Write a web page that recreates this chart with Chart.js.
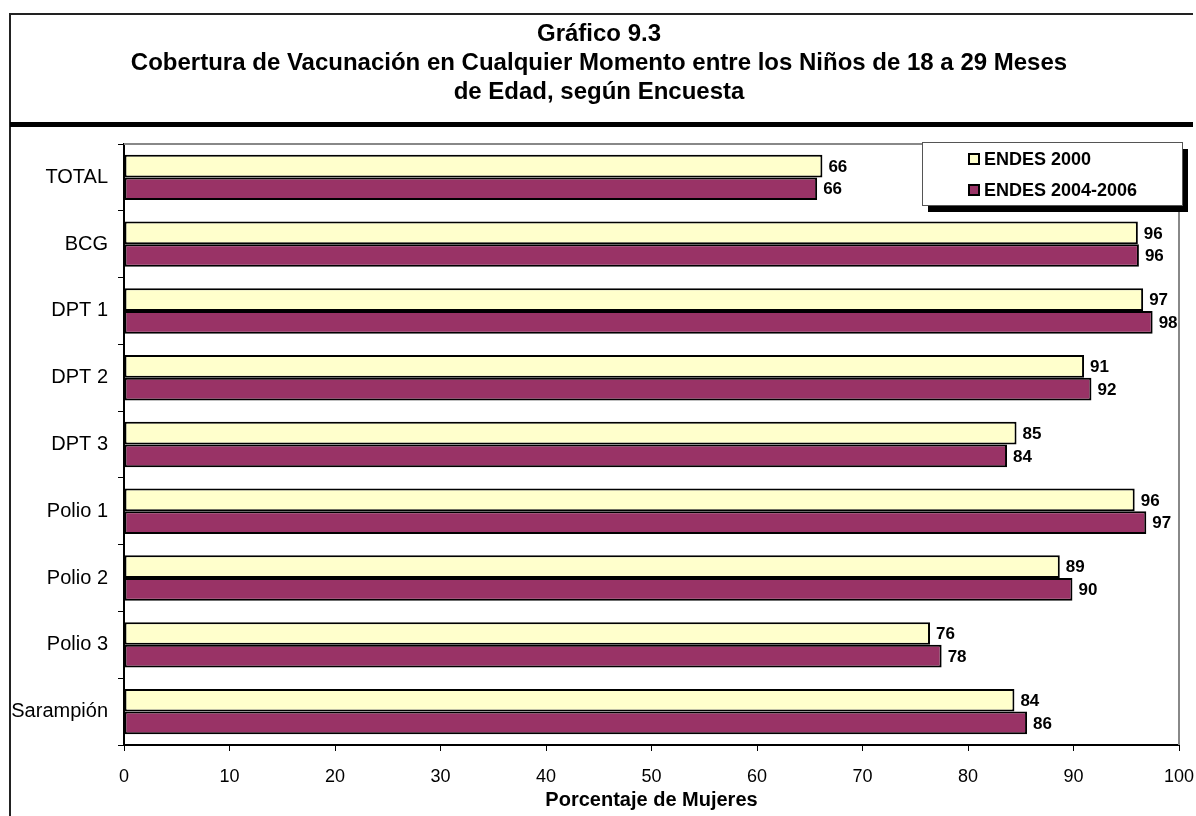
<!DOCTYPE html>
<html>
<head>
<meta charset="utf-8">
<script src="https://cdn.jsdelivr.net/npm/chart.js@4/dist/chart.umd.min.js"></script>
<style>
  html, body { margin: 0; padding: 0; background: #fff; }
  #wrap { width: 1196px; height: 816px; position: relative; }
</style>
</head>
<body>
<div id="wrap"><canvas id="vacChart" width="1196" height="816"></canvas></div>
<script>
const categories = ["TOTAL", "BCG", "DPT 1", "DPT 2", "DPT 3", "Polio 1", "Polio 2", "Polio 3", "Sarampión"];
const endes2000 = [66.2, 96.1, 96.6, 91.0, 84.6, 95.8, 88.7, 76.4, 84.4];
const endes2004 = [65.7, 96.2, 97.5, 91.7, 83.7, 96.9, 89.9, 77.5, 85.6];
const seriesNames = ["ENDES 2000", "ENDES 2004-2006"];
const seriesColors = ["#FFFFCC", "#993366"];
const titleLines = ["Gráfico 9.3", "Cobertura de Vacunación en Cualquier Momento entre los Niños de 18 a 29 Meses", "de Edad, según Encuesta"];
const xTitle = "Porcentaje de Mujeres";

const FONT = "Arial, 'Liberation Sans', sans-serif";

// frame, title, plot border, bar labels and legend box
const decor = {
  id: "decor",
  beforeDraw(chart) {
    const ctx = chart.ctx;
    ctx.save();
    ctx.fillStyle = "#fff";
    ctx.fillRect(0, 0, chart.width, chart.height);
    ctx.strokeStyle = "#222";
    ctx.lineWidth = 2;
    ctx.beginPath();
    ctx.moveTo(10, 817);
    ctx.lineTo(10, 14);
    ctx.lineTo(1193, 14);
    ctx.stroke();
    ctx.fillStyle = "#000";
    ctx.fillRect(10, 122, 1183, 5);
    ctx.font = "bold 24px " + FONT;
    ctx.textAlign = "center";
    ctx.textBaseline = "middle";
    ctx.fillText(titleLines[0], 599, 34);
    ctx.fillText(titleLines[1], 599, 63);
    ctx.fillText(titleLines[2], 599, 92);
    ctx.restore();
  },
  afterDatasetsDraw(chart) {
    const ctx = chart.ctx;
    const a = chart.chartArea;
    ctx.save();
    // gray plot border top/right
    ctx.strokeStyle = "#888";
    ctx.lineWidth = 2;
    ctx.beginPath();
    ctx.moveTo(a.left, a.top);
    ctx.lineTo(a.right, a.top);
    ctx.lineTo(a.right, a.bottom);
    ctx.stroke();

    // value labels
    ctx.fillStyle = "#000";
    ctx.font = "bold 17px " + FONT;
    ctx.textAlign = "left";
    ctx.textBaseline = "middle";
    chart.data.datasets.forEach((ds, i) => {
      chart.getDatasetMeta(i).data.forEach((bar, j) => {
        ctx.fillText(String(Math.round(ds.data[j])), bar.x + 6, bar.y + 1);
      });
    });

    // legend box with shadow
    const lx = 922, ly = 142, lw = 260, lh = 63;
    ctx.fillStyle = "#000";
    ctx.fillRect(lx + 6, ly + 7, lw, lh);
    ctx.fillStyle = "#fff";
    ctx.fillRect(lx, ly, lw, lh);
    ctx.strokeStyle = "#555";
    ctx.lineWidth = 1;
    ctx.strokeRect(lx + 0.5, ly + 0.5, lw, lh);
    ctx.font = "bold 18px " + FONT;
    seriesNames.forEach((name, i) => {
      const y = ly + 17 + i * 31;
      ctx.fillStyle = seriesColors[i];
      ctx.fillRect(lx + 47, y - 5, 10, 10);
      ctx.strokeStyle = "#000";
      ctx.lineWidth = 2;
      ctx.strokeRect(lx + 47, y - 5, 10, 10);
      ctx.fillStyle = "#000";
      ctx.fillText(name, lx + 62, y + 1);
    });
    ctx.restore();
  }
};

new Chart("vacChart", {
  type: "bar",
  data: {
    labels: categories,
    datasets: [
      { label: seriesNames[0], data: endes2000, backgroundColor: seriesColors[0], borderColor: "#000", borderWidth: 2, borderSkipped: false },
      { label: seriesNames[1], data: endes2004, backgroundColor: seriesColors[1], borderColor: "#000", borderWidth: 2, borderSkipped: false }
    ]
  },
  options: {
    indexAxis: "y",
    responsive: false,
    animation: false,
    devicePixelRatio: 1,
    layout: { padding: { left: 10, right: 17, top: 144, bottom: 0 } },
    datasets: { bar: { categoryPercentage: 0.68, barPercentage: 1.0 } },
    plugins: {
      legend: { display: false },
      title: { display: false },
      tooltip: { enabled: false }
    },
    scales: {
      x: {
        min: 0,
        max: 100,
        ticks: { stepSize: 10, color: "#000", font: { family: FONT, size: 18 }, padding: 15 },
        grid: { drawOnChartArea: false, tickLength: 6, color: "#000" },
        border: { color: "#000", width: 2 },
        title: { display: true, text: xTitle, color: "#000", font: { family: FONT, size: 20, weight: "bold" }, padding: { top: 0, bottom: 4 } },
        afterFit(scale) { scale.height = 71; scale.paddingRight = 0; scale.paddingLeft = 0; }
      },
      y: {
        ticks: { color: "#000", font: { family: FONT, size: 20 }, padding: 10 },
        grid: { drawOnChartArea: false, tickLength: 6, color: "#000", offset: true },
        border: { color: "#000", width: 2 },
        afterFit(scale) { scale.width = 114; }
      }
    }
  },
  plugins: [decor]
});
</script>
</body>
</html>
